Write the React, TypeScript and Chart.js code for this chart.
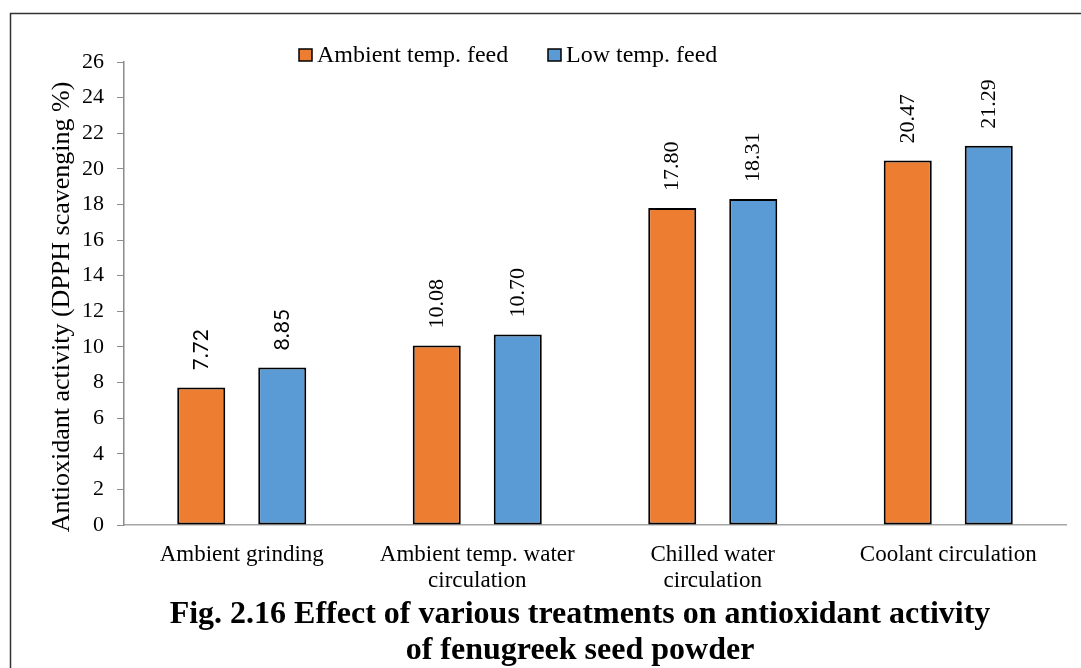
import React, { useEffect, useRef } from "react";
import { Chart, registerables } from "chart.js";

Chart.register(...registerables);

const categories: string[][] = [
  ["Ambient grinding"],
  ["Ambient temp. water", "circulation"],
  ["Chilled water", "circulation"],
  ["Coolant circulation"],
];
const seriesNames = ["Ambient temp. feed", "Low temp. feed"];
const ambientFeed = [7.72, 10.08, 17.8, 20.47];
const lowTempFeed = [8.85, 10.7, 18.31, 21.29];
const yTicksMax = 26;
const yTickStep = 2;
const yAxisTitle = "Antioxidant activity (DPPH scavenging %)";
const figureTitle = [
  "Fig. 2.16 Effect of various treatments on antioxidant activity",
  "of fenugreek seed powder",
];

const ORANGE = "#ED7D31";
const BLUE = "#5B9BD5";
const SERIF = '"Liberation Serif", "Times New Roman", serif';
const LABEL_SANS = 'Lato, "Liberation Sans", sans-serif';

const overlay = {
  id: "overlay",
  afterDraw(chart: any) {
    const { ctx } = chart;
    ctx.save();

    // outer frame
    ctx.strokeStyle = "#333";
    ctx.lineWidth = 1.5;
    ctx.beginPath();
    ctx.moveTo(10.5, 700);
    ctx.lineTo(10.5, 13.5);
    ctx.lineTo(1100, 13.5);
    ctx.stroke();

    // legend
    const colors = [ORANGE, BLUE];
    const legendX = [299, 548];
    ctx.font = `24px ${SERIF}`;
    ctx.textBaseline = "alphabetic";
    ctx.textAlign = "left";
    seriesNames.forEach((name, i) => {
      ctx.fillStyle = colors[i];
      ctx.fillRect(legendX[i], 49, 13, 12);
      ctx.strokeStyle = "#000";
      ctx.lineWidth = 1.5;
      ctx.strokeRect(legendX[i], 49, 13, 12);
      ctx.fillStyle = "#000";
      ctx.fillText(name, legendX[i] + 18, 62);
    });

    // value labels above bars
    chart.data.datasets.forEach((ds: any, di: number) => {
      const meta = chart.getDatasetMeta(di);
      meta.data.forEach((bar: any, j: number) => {
        const v = ds.data[j] as number;
        ctx.save();
        ctx.translate(bar.x, bar.y - 17);
        ctx.rotate(-Math.PI / 2);
        ctx.font = j === 0 ? `21px ${LABEL_SANS}` : `22px ${SERIF}`;
        ctx.fillStyle = "#000";
        ctx.textAlign = "left";
        ctx.textBaseline = "middle";
        ctx.fillText(v.toFixed(2), 0, 0);
        ctx.restore();
      });
    });

    // y axis title
    ctx.save();
    ctx.translate(62, 307);
    ctx.rotate(-Math.PI / 2);
    ctx.font = `26px ${SERIF}`;
    ctx.fillStyle = "#000";
    ctx.textAlign = "center";
    ctx.textBaseline = "middle";
    ctx.fillText(yAxisTitle, 0, 0);
    ctx.restore();

    // figure caption
    ctx.font = `bold 32px ${SERIF}`;
    ctx.fillStyle = "#000";
    ctx.textAlign = "center";
    ctx.textBaseline = "alphabetic";
    ctx.fillText(figureTitle[0], 580, 623);
    ctx.fillText(figureTitle[1], 580, 659);

    ctx.restore();
  },
};

export default function App() {
  const ref = useRef<HTMLCanvasElement | null>(null);

  useEffect(() => {
    if (!ref.current) return;
    const chart = new Chart(ref.current, {
      type: "bar",
      data: {
        labels: categories,
        datasets: [
          {
            label: seriesNames[0],
            data: ambientFeed,
            backgroundColor: ORANGE,
            borderColor: "#000",
            borderWidth: 2,
            borderSkipped: false,
            categoryPercentage: 0.688,
            barPercentage: 0.593,
          },
          {
            label: seriesNames[1],
            data: lowTempFeed,
            backgroundColor: BLUE,
            borderColor: "#000",
            borderWidth: 2,
            borderSkipped: false,
            categoryPercentage: 0.688,
            barPercentage: 0.593,
          },
        ],
      },
      options: {
        responsive: false,
        maintainAspectRatio: false,
        animation: false,
        layout: { padding: { left: 40, right: 15, top: 62, bottom: 63 } },
        plugins: {
          legend: { display: false },
          title: { display: false },
          tooltip: { enabled: false },
        },
        scales: {
          x: {
            grid: { display: false, drawTicks: false },
            border: { color: "#A6A6A6", width: 1.5 },
            ticks: {
              color: "#000",
              font: { family: SERIF, size: 23, lineHeight: 1.13 },
              padding: 17,
              maxRotation: 0,
              autoSkip: false,
            },
            afterFit: (scale: any) => {
              scale.height = 80;
            },
          },
          y: {
            min: 0,
            max: yTicksMax,
            grid: {
              drawOnChartArea: false,
              drawTicks: true,
              tickLength: 7,
              color: "#8C8C8C",
            },
            border: { color: "#8C8C8C", width: 1.5 },
            ticks: {
              stepSize: yTickStep,
              color: "#000",
              font: { family: SERIF, size: 22 },
              padding: 13,
            },
            afterFit: (scale: any) => {
              scale.width = 84;
            },
          },
        },
      },
      plugins: [overlay],
    });
    return () => chart.destroy();
  }, []);

  return (
    <canvas
      ref={ref}
      width={1081}
      height={668}
      style={{ position: "fixed", left: 0, top: 0, width: 1081, height: 668, background: "#fff" }}
    />
  );
}
